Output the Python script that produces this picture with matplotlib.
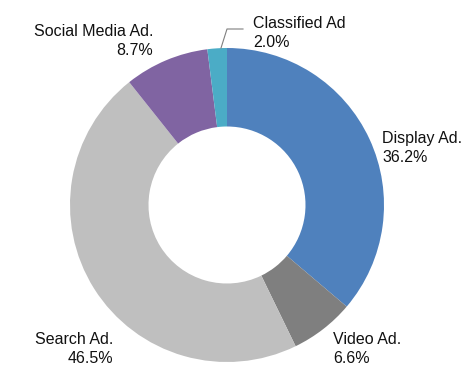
import matplotlib.pyplot as plt

# Ad spend share by channel, clockwise from 12 o'clock
channels = ['Display Ad.', 'Video Ad.', 'Search Ad.', 'Social Media Ad.', 'Classified Ad']
shares = [36.2, 6.6, 46.5, 8.7, 2.0]
colors = ['#4F81BD', '#7F7F7F', '#BFBFBF', '#8064A2', '#4BACC6']

plt.rcParams['font.family'] = ['Liberation Sans', 'DejaVu Sans']

fig = plt.figure(figsize=(4.7, 3.76), dpi=100)
ax = fig.add_axes([0, 0, 1, 1])

cx, cy, r = 227, 376 - 205, 157
ax.pie(shares, colors=colors, startangle=90, counterclock=False,
       center=(cx, cy), radius=r, frame=True,
       wedgeprops=dict(width=r * 0.5, linewidth=0))
ax.set_xlim(0, 470)
ax.set_ylim(0, 376)
ax.set_aspect('equal')
ax.axis('off')

fs = 11.5
# label anchor (x, y in pixels from top) and alignment
label_pos = {
    'Display Ad.': (382, 148, 'left'),
    'Video Ad.': (333, 349, 'left'),
    'Search Ad.': (113, 349, 'right'),
    'Social Media Ad.': (153, 41, 'right'),
    'Classified Ad': (253, 33, 'left'),
}
for name, val in zip(channels, shares):
    x, y, ha = label_pos[name]
    ax.text(x, 376 - y, f'{name}\n{val:.1f}%', ha=ha, va='center',
            multialignment=ha, fontsize=fs, color='#111111', linespacing=1.3)

# leader line for the small slice
ax.plot([221, 227, 243], [376 - 48, 376 - 29, 376 - 29], color='#7f7f7f', lw=0.8)

fig.savefig('out.png', dpi=100)
